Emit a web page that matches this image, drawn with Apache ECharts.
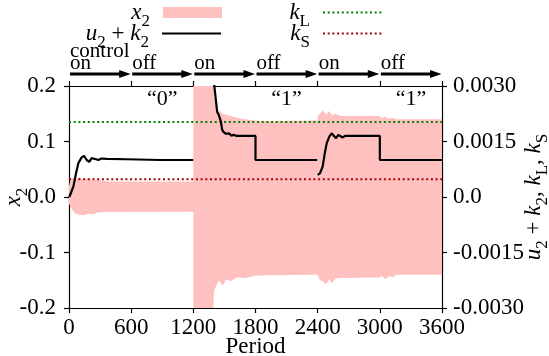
<!DOCTYPE html>
<html><head><meta charset="utf-8">
<script src="https://cdn.jsdelivr.net/npm/echarts@6/dist/echarts.min.js"></script>
<style>html,body{margin:0;padding:0;background:#fff}#c{width:549px;height:356px}</style>
</head><body><div id="c"></div>
<script>
// ---------- data ----------
const xTickValues = [0, 600, 1200, 1800, 2400, 3000, 3600];
const leftTickLabels = ['-0.2', '-0.1', '0.0', '0.1', '0.2'];
const rightTickLabels = ['-0.0030', '-0.0015', '0.0', '0.0015', '0.0030'];

// x2 envelope (left axis)
const x2Time  = [0, 20, 60, 100, 140, 180, 230, 280, 364, 1200, 1200, 1370, 1400, 1420, 1450, 1480, 1520, 1560, 1620, 1700, 1800, 1900, 2400, 2400, 2420, 2450, 2480, 2510, 2540, 2570, 2620, 3000, 3020, 3050, 3090, 3120, 3160, 3600];
const x2Upper = [0.02, 0.035, 0.03, 0.036, 0.03, 0.034, 0.03, 0.031, 0.028, 0.028, 0.3, 0.3, 0.18, 0.16, 0.155, 0.15, 0.148, 0.146, 0.143, 0.14, 0.138, 0.137, 0.138, 0.146, 0.15, 0.156, 0.148, 0.155, 0.147, 0.15, 0.146, 0.146, 0.142, 0.145, 0.141, 0.143, 0.14, 0.14];
const x2Lower = [-0.012, -0.02, -0.03, -0.032, -0.033, -0.03, -0.031, -0.028, -0.027, -0.0265, -0.3, -0.3, -0.17, -0.16, -0.15, -0.16, -0.148, -0.152, -0.145, -0.146, -0.142, -0.141, -0.14, -0.14, -0.15, -0.152, -0.158, -0.148, -0.155, -0.147, -0.146, -0.145, -0.142, -0.148, -0.143, -0.145, -0.14, -0.14];

// u2 + k2 (right axis); null = gap
const uTime  = [3, 42, 68, 90, 122, 145, 171, 196, 219, 235, 261, 283, 315, 364, 557, 878, 1200, 1300, 1395, 1430, 1445, 1452, 1465, 1478, 1490, 1500, 1515, 1530, 1545, 1565, 1590, 1620, 1800, 1800, 2395, 2396, 2400, 2422, 2448, 2471, 2487, 2512, 2535, 2551, 2577, 2599, 2615, 2641, 2664, 2700, 3000, 3000, 3600];
const uValue = [0, 0.00028, 0.00064, 0.00091, 0.00107, 0.00111, 0.001, 0.00095, 0.00105, 0.00107, 0.00102, 0.001, 0.00104, 0.00103, 0.00102, 0.001, 0.001, null, 0.0032, 0.0023, 0.00222, 0.00226, 0.00205, 0.00182, 0.00176, 0.0018, 0.00171, 0.00168, 0.00172, 0.00166, 0.00168, 0.00165, 0.00165, 0.001, 0.001, null, 0.0006, 0.00064, 0.00082, 0.00122, 0.00145, 0.00163, 0.00172, 0.00174, 0.00159, 0.00168, 0.0017, 0.00161, 0.00165, 0.00165, 0.00165, 0.001, 0.001];

const kLValue = 0.00203;
const kSValue = 0.00048;

// control annotation
const stateNames = ['on', 'off', 'on', 'off', 'on', 'off'];
const stateStart = [0, 600, 1200, 1800, 2400, 3000];
const stateEnd   = [600, 1200, 1800, 2400, 3000, 3600];
const decodedText = ['“0”', '“1”', '“1”'];
const decodedAt   = [900, 2100, 3300];

// ---------- style ----------
const F = '"Liberation Serif", "Times New Roman", serif';
const PINK = '#ffc0c0';
const rich = {
  i: { fontFamily: F, fontStyle: 'italic', fontSize: 23, lineHeight: 30, color: '#000' },
  n: { fontFamily: F, fontSize: 23, lineHeight: 30, color: '#000' },
  s: { fontFamily: F, fontSize: 17, lineHeight: 30, padding: [18, 0, 0, 0], color: '#000' },
  g: { width: 8, lineHeight: 30 }
};
const legendText = {
  'x2': '{i|x}{s|2}{g|}',
  'u2+k2': '{i|u}{s|2}{n| + }{i|k}{s|2}{g|}',
  'kL': '{i|k}{s|L}{g|}',
  'kS': '{i|k}{s|S}{g|}'
};

const upperData = x2Time.map((t, i) => [t, x2Upper[i]]);
const lowerData = x2Time.map((t, i) => [t, x2Lower[i]]);
const uData = uTime.map((t, i) => [t, uValue[i]]);

function fmtLeft(v) { return leftTickLabels[Math.round((v + 0.2) / 0.1)]; }
function fmtRight(v) { return rightTickLabels[Math.round((v + 0.003) / 0.0015)]; }
function fmtX(v) { return String(xTickValues[Math.round(v / 600)]); }

const axisLineStyle = { color: '#000', width: 1.2 };
const legendCommon = {
  orient: 'vertical', align: 'right', padding: 0, itemWidth: 59, itemHeight: 11,
  selectedMode: false, formatter: n => legendText[n],
  textStyle: { rich: rich }
};
const noSym = { opacity: 0 };

const chart = echarts.init(document.getElementById('c'), null, { renderer: 'canvas' });
chart.setOption({
  animation: false,
  backgroundColor: '#fff',
  grid: { left: 69, right: 107, top: 86, bottom: 48, containLabel: false, outerBoundsMode: 'none' },
  legend: [
    Object.assign({}, legendCommon, { data: [{ name: 'x2', icon: 'rect', itemStyle: { color: PINK } }], right: 327, top: -5 }),
    Object.assign({}, legendCommon, { data: [{ name: 'u2+k2', itemStyle: noSym }], right: 327, top: 16 }),
    Object.assign({}, legendCommon, { data: [{ name: 'kL', itemStyle: noSym }], right: 166, top: -5 }),
    Object.assign({}, legendCommon, { data: [{ name: 'kS', itemStyle: noSym }], right: 166, top: 16 })
  ],
  xAxis: [{
    type: 'value', min: 0, max: 3600, interval: 600, position: 'bottom',
    axisLine: { onZero: false, lineStyle: axisLineStyle },
    axisTick: { length: 5, lineStyle: axisLineStyle },
    splitLine: { show: false },
    axisLabel: { fontFamily: F, fontSize: 23, color: '#000', margin: 8, formatter: fmtX },
    name: 'Period', nameLocation: 'middle', nameGap: 27, nameMoveOverlap: false,
    nameTextStyle: { fontFamily: F, fontSize: 23, color: '#000' }
  }, {
    type: 'value', min: 0, max: 3600, interval: 600, position: 'top',
    axisLine: { onZero: false, lineStyle: axisLineStyle },
    axisTick: { length: 5, lineStyle: axisLineStyle },
    splitLine: { show: false }, axisLabel: { show: false }
  }],
  yAxis: [{
    type: 'value', min: -0.2, max: 0.2, interval: 0.1, position: 'left',
    axisLine: { show: true, onZero: false, lineStyle: axisLineStyle },
    axisTick: { show: true, length: 5, lineStyle: axisLineStyle },
    splitLine: { show: false },
    axisLabel: { fontFamily: F, fontSize: 23, color: '#000', margin: 13, formatter: fmtLeft },
    name: '{i|x}{s|2}', nameLocation: 'middle', nameGap: 40, nameRotate: 90, nameMoveOverlap: false,
    nameTextStyle: { rich: rich }
  }, {
    type: 'value', min: -0.003, max: 0.003, interval: 0.0015, position: 'right',
    axisLine: { show: true, onZero: false, lineStyle: axisLineStyle },
    axisTick: { show: true, length: 5, lineStyle: axisLineStyle },
    splitLine: { show: false },
    axisLabel: { fontFamily: F, fontSize: 23, color: '#000', margin: 11, formatter: fmtRight },
    name: '{i|u}{s|2}{n| + }{i|k}{s|2}{n|, }{i|k}{s|L}{n|, }{i|k}{s|S}',
    nameLocation: 'middle', nameGap: 77, nameRotate: 90, nameMoveOverlap: false,
    nameTextStyle: { rich: rich }
  }],
  series: [{
    name: 'x2', type: 'line', xAxisIndex: 0, yAxisIndex: 0, data: upperData,
    symbol: 'none', lineStyle: { width: 0, opacity: 0 },
    areaStyle: { color: PINK, opacity: 1, origin: 'auto' }, itemStyle: { color: PINK }, z: 1, silent: true
  }, {
    name: 'x2lower', type: 'line', xAxisIndex: 0, yAxisIndex: 0, data: lowerData,
    symbol: 'none', lineStyle: { width: 0, opacity: 0 },
    areaStyle: { color: PINK, opacity: 1, origin: 'auto' }, itemStyle: { color: PINK }, z: 1, silent: true
  }, {
    name: 'kL', type: 'line', xAxisIndex: 0, yAxisIndex: 1, data: [[0, kLValue], [3600, kLValue]],
    symbol: 'none', lineStyle: { color: '#008000', width: 2, type: [2, 2.7] }, itemStyle: { color: '#008000' }, z: 3
  }, {
    name: 'kS', type: 'line', xAxisIndex: 0, yAxisIndex: 1, data: [[0, kSValue], [3600, kSValue]],
    symbol: 'none', lineStyle: { color: '#a40000', width: 2, type: [2, 2.7] }, itemStyle: { color: '#a40000' }, z: 3
  }, {
    name: 'u2+k2', type: 'line', xAxisIndex: 0, yAxisIndex: 1, data: uData,
    symbol: 'none', connectNulls: false, lineStyle: { color: '#000', width: 2.2 }, itemStyle: { color: '#000' }, z: 4
  }]
});

// control annotations above the plot
const g = [];
const yArrow = 74;
for (let k = 0; k < stateNames.length; k++) {
  const xs = chart.convertToPixel({ xAxisIndex: 0 }, stateStart[k]);
  const xe = chart.convertToPixel({ xAxisIndex: 0 }, stateEnd[k]);
  g.push({ type: 'line', z: 100, shape: { x1: xs + 1, y1: yArrow, x2: xe - 10, y2: yArrow }, style: { stroke: '#000', lineWidth: 3 } });
  g.push({ type: 'polygon', z: 100, shape: { points: [[xe - 12, yArrow - 4], [xe - 0.5, yArrow], [xe - 12, yArrow + 4]] }, style: { fill: '#000' } });
  g.push({ type: 'text', z: 100, x: xs + 1, y: 63, style: { text: stateNames[k], font: '21px ' + F, fill: '#000', align: 'left', verticalAlign: 'middle' } });
}
const x0 = chart.convertToPixel({ xAxisIndex: 0 }, 0);
g.push({ type: 'text', z: 100, x: x0 + 1, y: 51, style: { text: 'control', font: '21px ' + F, fill: '#000', align: 'left', verticalAlign: 'middle' } });
for (let k = 0; k < decodedText.length; k++) {
  const xc = chart.convertToPixel({ xAxisIndex: 0 }, decodedAt[k]);
  g.push({ type: 'text', z: 100, x: xc, y: 99, style: { text: decodedText[k], font: '22px ' + F, fill: '#000', align: 'center', verticalAlign: 'middle' } });
}
chart.setOption({ graphic: g });
</script>
</body></html>
